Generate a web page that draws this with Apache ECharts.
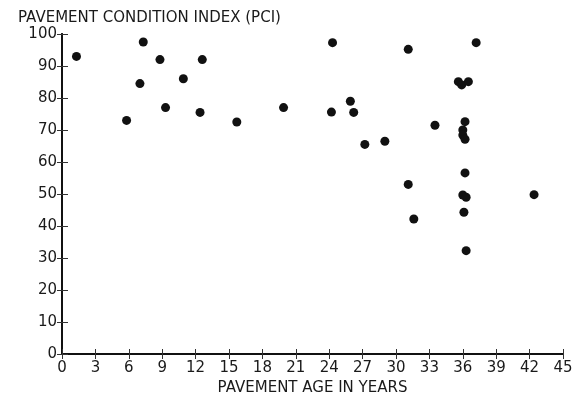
<!DOCTYPE html>
<html>
<head>
<meta charset="utf-8">
<script src="https://cdn.jsdelivr.net/npm/echarts@6/dist/echarts.min.js"></script>
<style>
html,body{margin:0;padding:0;background:#fff;}
#chart{width:577px;height:395px;}
</style>
</head>
<body>
<div id="chart"></div>
<script>
// Pavement age (years)
const ages = [1.3, 5.8, 7.3, 7.0, 8.8, 9.3, 10.9, 12.6, 12.4, 15.7, 19.9,
  24.3, 24.2, 25.9, 26.2, 27.2, 29.0, 31.1, 31.1, 31.6, 33.5, 37.2,
  35.6, 35.9, 36.5, 36.2, 36.0, 36.0, 36.2, 36.2, 36.0, 36.3, 36.1, 36.3, 42.4];
// Pavement condition index
const pci = [93, 73, 97.5, 84.5, 92, 77, 86, 92, 75.5, 72.5, 77,
  97.3, 75.6, 79, 75.5, 65.5, 66.5, 95.2, 53, 42.2, 71.5, 97.3,
  85.1, 84.1, 85.1, 72.6, 70, 68.4, 67.1, 56.6, 49.7, 49, 44.3, 32.3, 49.8];
const xTicks = [0, 3, 6, 9, 12, 15, 18, 21, 24, 27, 30, 33, 36, 39, 42, 45];
const yTicks = [0, 10, 20, 30, 40, 50, 60, 70, 80, 90, 100];

const points = ages.map((a, i) => [a, pci[i]]);
const font = 'DejaVu Sans';
const chart = echarts.init(document.getElementById('chart'));
const lineStyle = {color: '#111', width: 2};
chart.setOption({
  animation: false,
  title: {
    text: 'PAVEMENT CONDITION INDEX (PCI)',
    left: 13, top: 6,
    textStyle: {fontFamily: font, fontSize: 15, fontWeight: 'normal', color: '#1a1a1a'}
  },
  grid: {left: 62, right: 14, top: 34, bottom: 41, containLabel: false, outerBoundsMode: 'none'},
  xAxis: [{
    type: 'value', min: 0, max: 45, interval: 3,
    name: 'PAVEMENT AGE IN YEARS', nameLocation: 'middle', nameGap: 26,
    nameTextStyle: {fontFamily: font, fontSize: 15, color: '#1a1a1a'},
    axisLine: {lineStyle: lineStyle},
    axisTick: {inside: true, length: 5, lineStyle: {color: '#333', width: 1}},
    axisLabel: {fontFamily: font, fontSize: 15, color: '#1a1a1a', margin: 7,
      formatter: v => xTicks.includes(v) ? String(v) : ''},
    splitLine: {show: false}
  }, {
    type: 'value', min: 0, max: 45, interval: 3, position: 'top',
    axisLine: {lineStyle: lineStyle},
    axisTick: {inside: true, length: 5, lineStyle: {color: '#333', width: 1}},
    axisLabel: {show: false}, splitLine: {show: false}
  }],
  yAxis: [{
    type: 'value', min: 0, max: 100, interval: 10,
    axisLine: {lineStyle: lineStyle},
    axisTick: {inside: true, length: 6, lineStyle: {color: '#333', width: 1}},
    axisLabel: {fontFamily: font, fontSize: 15, color: '#1a1a1a', margin: 5,
      formatter: v => yTicks.includes(v) ? String(v) : ''},
    splitLine: {show: false}
  }, {
    type: 'value', min: 0, max: 100, interval: 10, position: 'right',
    axisLine: {lineStyle: lineStyle},
    axisTick: {inside: true, length: 5, lineStyle: {color: '#333', width: 1}},
    axisLabel: {show: false}, splitLine: {show: false}
  }],
  series: [{
    type: 'scatter',
    data: points,
    symbol: 'circle',
    symbolSize: 9,
    itemStyle: {color: '#111', opacity: 1}
  }]
});
</script>
</body>
</html>
